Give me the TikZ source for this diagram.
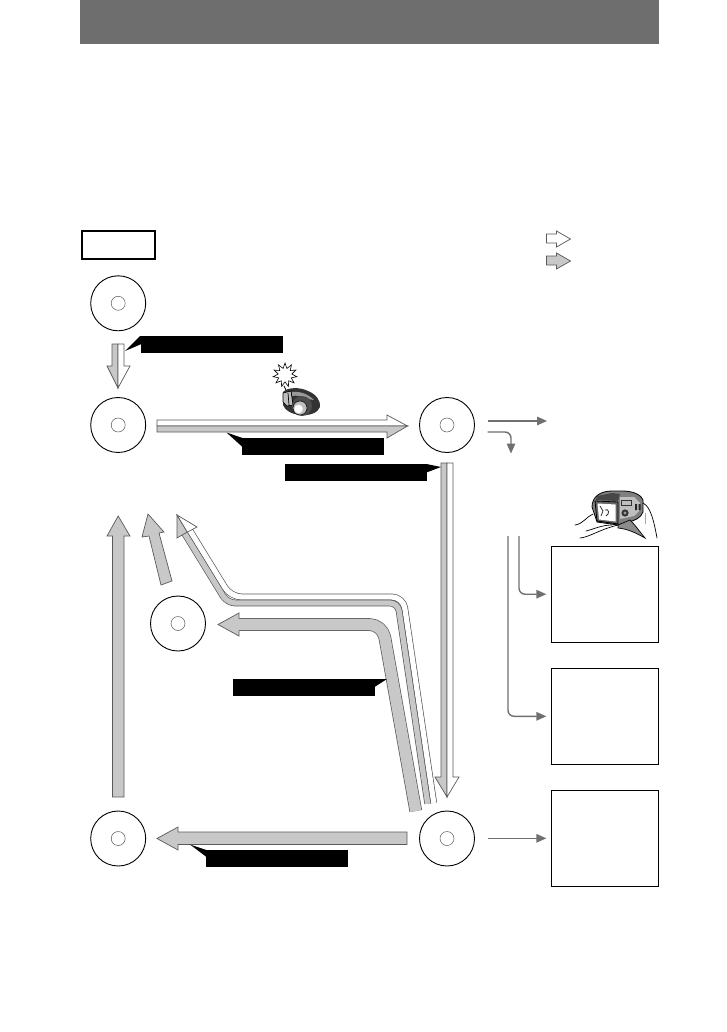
\documentclass[tikz,border=0pt]{standalone}
\usetikzlibrary{shapes.geometric,calc,arrows.meta}
\definecolor{hdr}{HTML}{6E6E6E}
\definecolor{fatfill}{HTML}{C8C8C8}
\definecolor{fatline}{HTML}{5A5A5A}
\definecolor{conncol}{HTML}{707070}
\tikzset{
  x=1pt,y=-1pt,
  discbody/.style={circle,draw=black,line width=.9pt,fill=white,minimum size=55pt,inner sep=0pt},
  dischole/.style={circle,draw=black!65,line width=.5pt,minimum size=14pt,inner sep=0pt},
  panel/.style={rectangle,draw=black,line width=.9pt,minimum width=107pt,minimum height=96pt,inner sep=0pt},
  fatgray/.style={draw=fatline,fill=fatfill,line width=.7pt,line join=miter},
  fatwhite/.style={draw=fatline,fill=white,line width=.7pt,line join=miter},
  band/.style={draw=fatline,line width=.7pt,double=#1,double distance=5.3pt,line join=round},
  wideband/.style={draw=fatline,line width=.7pt,double=fatfill,double distance=11.3pt,line join=round},
  callout/.style={fill=black,draw=none},
  conn/.style={draw=conncol,line width=1.4pt,-{Triangle[length=10pt,width=8.5pt,fill=conncol]}},
  sketch/.style={draw=black,line width=.7pt,line cap=round}
}
\begin{document}
\begin{tikzpicture}
\useasboundingbox[fill=white] (0,0) rectangle (726,1032);
% header
\fill[hdr] (80,0) rectangle (659,44);
% step box
\node[draw=black,line width=1.7pt,minimum width=73pt,minimum height=28pt,inner sep=0pt] (stepbox) at (118.2,245) {};
% legend
\draw[fatwhite] (546.5,234)--(556.5,234)--(556.5,231)--(570.5,239)--(556.5,247)--(556.5,243)--(546.5,243)--cycle;
\draw[fatgray] (546.5,256)--(556.5,256)--(556.5,253)--(570.5,261)--(556.5,269)--(556.5,265)--(546.5,265)--cycle;
% discs
\foreach \n/\px/\py in {d1/118.2/303.3,d2/118.2/425,d3/447/425,d4/178/623.5,d5/118.2/838.5,d6/447/838.5}{
  \node[discbody] (\n) at (\px,\py) {};
  \node[dischole] (\n h) at (\n) {};
}
% panels
\node[panel] (pa) at (604.8,594.2) {};
\node[panel] (pb) at (604.8,716.3) {};
\node[panel] (pc) at (604.8,838.3) {};
% disc1 -> disc2
\draw[fatgray] (112,344)--(118,344)--(118,388)--(107,366)--(112,366)--cycle;
\draw[fatwhite] (118,344)--(124,344)--(124,366)--(130,366)--(118,388)--cycle;
% disc2 -> disc3
\draw[fatwhite] (157,420)--(387,420)--(387,415)--(407.5,426)--(157,426)--cycle;
\draw[fatgray] (157,426)--(407.5,426)--(387,438)--(387,432)--(157,432)--cycle;
% disc3 -> disc6
\draw[fatgray] (441,463)--(447,463)--(447,797)--(435,777)--(441,777)--cycle;
\draw[fatwhite] (447,463)--(453,463)--(453,777)--(459,777)--(447,797)--cycle;
% disc6 -> disc5
\draw[fatgray] (407,832)--(178,832)--(178,827)--(157,838.5)--(178,850)--(178,844.5)--(407,844.5)--cycle;
% disc5 -> disc2
\draw[fatgray] (112.5,797)--(112.5,536)--(107,536)--(118.2,516)--(130,536)--(124,536)--(124,797)--cycle;
% disc4 -> disc2
\draw[fatgray] (148,514)--(164,532)--(159,533)--(172,581)--(161,585)--(149,536)--(142,537)--cycle;
% disc6 -> disc4
\draw[wideband,rounded corners=13pt] (239,624.5)--(382.5,624.5)--(415.8,811);
\draw[fatgray] (239,618.5)--(239,613)--(218,624.5)--(239,636)--(239,630.5);
\fill[fatfill] (238.4,619)rectangle(240.5,630);
% disc6 -> disc2 double band
\draw[band=white,rounded corners=11pt] (189.9,530.6)--(230.7,597)--(403.1,597)--(433.7,802.9);
\draw[band=fatfill,rounded corners=8pt] (184.7,533.6)--(227.3,603)--(397.9,603)--(427.7,803.7);
\draw[fatgray] (177,515)--(187.3,532.1)--(183.9,534)--(177,538)--cycle;
\draw[fatwhite] (177,515)--(197,527)--(191.3,530)--(187.3,532.1)--cycle;
% callouts
\fill[callout] (141,336) rectangle (283,353);
\fill[callout] (125,351)--(140,336)--(141.5,336)--(141.5,344)--cycle;
\fill[callout] (242,438) rectangle (384,455);
\fill[callout] (226.5,432.5)--(242.5,438)--(242.5,447)--cycle;
\fill[callout] (285,464) rectangle (427,481);
\fill[callout] (441,467)--(426.5,464)--(426.5,472.5)--cycle;
\fill[callout] (233,679) rectangle (375,696);
\fill[callout] (387,679)--(374.5,679)--(374.5,687)--cycle;
\fill[callout] (206,850) rectangle (348,867);
\fill[callout] (190,844.5)--(206.5,850)--(206.5,857)--cycle;
% connectors
\coordinate (c1) at (487.5,421);
\coordinate (c1e) at (547,421);
\coordinate (c2) at (487.5,432);
\coordinate (c2m) at (511,432);
\coordinate (c2e) at (511,453.5);
\coordinate (c3) at (519,536);
\coordinate (c4) at (508,536);
\coordinate (c5) at (487.5,838.3);
\draw[conn] (c1)--(c1e);
\draw[conn,rounded corners=6pt] (c2)--(c2m)--(c2e);
\draw[conn,rounded corners=6pt] (c3)--(c3|-pa.west)--([xshift=-4.5pt]pa.west);
\draw[conn,rounded corners=6pt] (c4)--(c4|-pb.west)--([xshift=-4.5pt]pb.west);
\draw[conn] (c5)--([xshift=-4.5pt]pc.west);
% flash star
\node[star,star points=11,star point ratio=1.75,draw=black,line width=.6pt,fill=white,minimum size=24pt,inner sep=0pt] (flash) at (285,375) {};
\draw[sketch] (284,386)--(287,392);
% camera 1
\fill[black!80] (283,392) .. controls (288,387) and (300,387) .. (308,391) .. controls (316,394) and (321,401) .. (320,407) .. controls (318,413) and (309,416) .. (300,415) .. controls (292,414) and (285,411) .. (283,405) -- cycle;
\fill[black!40] (292,392) .. controls (300,391) and (308,394) .. (314,400) -- (308,399) .. controls (302,396) and (296,395) .. (292,396) -- cycle;
\draw[sketch,fill=black!25] (283,393)--(291,391)--(293,405)--(287,406)--(283,402)--cycle;
\draw[draw=black,line width=.7pt] (288,393)--(289,405);
\node[circle,fill=black!70,minimum size=20pt,inner sep=0pt] (lens1) at (302,406) {};
\node[circle,fill=black!25,draw=black,line width=.5pt,minimum size=14pt,inner sep=0pt] (lens1b) at (300,408) {};
\node[circle,fill=white,minimum size=8.5pt,inner sep=0pt] (lens1c) at (298.5,409) {};
% camera 2 with hands
\draw[draw=black,line width=.8pt,fill=black!50] (592,507) .. controls (592,497) and (600,491) .. (612,491) -- (622,491) .. controls (630,491) and (640,493) .. (643,500) -- (643,512) .. controls (641,518) and (634,521) .. (628,522) -- (618,525) -- (597,522) -- cycle;
\fill[black!72] (597,496)--(612,493)--(620,494)--(618,501)--(596,500)--cycle;
\fill[black!25] (620,497)--(634,497)--(640,503)--(639,511)--(634,516)--(620,519)--cycle;
\draw[draw=black,line width=.8pt,fill=black!60] (595,501)--(618,502)--(618,524)--(597,521)--cycle;
\fill[white] (597.5,503.5)--(615.5,504.5)--(615.5,521.5)--(599,519.5)--cycle;
\draw[draw=black!80,line width=.8pt] (600,506)--(603,511)--(601,516) (605,510) .. controls (609,508) and (610,514) .. (606,516);
\fill[black!80] (625,513) circle (3.6pt);
\fill[black!40] (625,513) circle (1.6pt);
\fill[black!85] (635,504) rectangle (637,510) (638.5,504) rectangle (640.5,510);
\draw[draw=black!80,line width=.6pt] (621,500) rectangle (631,505);
\draw[sketch] (575,525) .. controls (583,524) and (586,517) .. (593,514);
\draw[sketch] (580,538) .. controls (590,537) and (598,530) .. (618,525);
\draw[sketch] (586,531) .. controls (594,529) and (602,525) .. (612,525);
\draw[sketch,fill=black!45] (618,525)--(630,520) .. controls (636,526) and (640,532) .. (645,538) .. controls (636,533) and (628,529) .. (618,528)--cycle;
\draw[sketch] (643,503) .. controls (651,507) and (654,522) .. (657,538);
\draw[draw=black!35,line width=.4pt] (645,513)--(645,524);
\end{tikzpicture}
\end{document}
